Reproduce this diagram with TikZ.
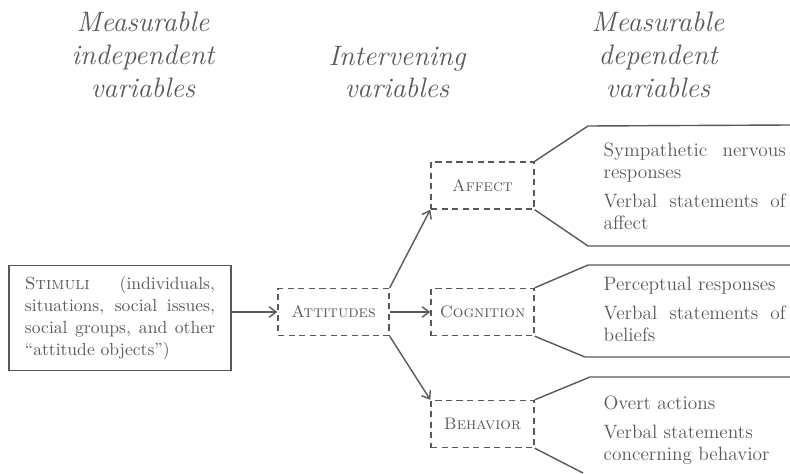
\documentclass[tikz,border=0pt]{standalone}
\usepackage{fontspec}
\usetikzlibrary{arrows.meta}

\definecolor{ink}{gray}{0.35}
\hyphenpenalty=10000
\exhyphenpenalty=10000

\tikzset{
	solidbox/.style={draw=ink, text=ink, align=justify},
	dashbox/.style={draw=ink, text=ink, dash pattern=on 3.5pt off 2.5pt, minimum height=0.94cm, font=\fontsize{9.5}{12}\selectfont},
	headline/.style={text=ink, align=center, font=\fontsize{16}{18.7}\selectfont\itshape\addfontfeatures{LetterSpace=10}},
	response/.style={text=ink, anchor=west, inner sep=0pt, text width=3.64cm, align=justify, font=\fontsize{11}{12.5}\selectfont\setlength{\parskip}{4pt}}
}

\begin{document}
\begin{tikzpicture}[line width=0.8pt, >={Straight Barb[length=4pt,width=6pt]}]
	\useasboundingbox (0,0) rectangle (15.8,9.46);

	% Заголовки колонок
	\node[headline] (indep) at (2.86, 8.36) {Measurable\\independent\\variables};
	\node[headline] (interv) at (7.94, 8.02) {Intervening\\variables};
	\node[headline] (dep) at (13.16, 8.36) {Measurable\\dependent\\variables};

	% Блоки
	\node[solidbox, text width=3.8cm, inner xsep=0.32cm, inner ysep=0.22cm, font=\fontsize{10}{12.5}\selectfont] (stimuli) at (2.4, 3.10) {\textsc{Stimuli} (individuals, situations, social issues, social groups, and other ``attitude objects'')};
	\node[dashbox, minimum width=2.22cm] (attitudes) at (6.67, 3.22) {\textsc{Attitudes}};
	\node[dashbox, minimum width=2.06cm] (affect) at (9.65, 5.75) {\textsc{Affect}};
	\node[dashbox, minimum width=2.06cm] (cognition) at (9.65, 3.22) {\textsc{Cognition}};
	\node[dashbox, minimum width=2.06cm] (behavior) at (9.65, 0.98) {\textsc{Behavior}};

	% Стрелки
	\draw[->, ink] (stimuli.east |- attitudes) -- (attitudes);
	\draw[->, ink] (attitudes.north east) -- (affect.south west);
	\draw[->, ink] (attitudes) -- (cognition);
	\draw[->, ink] (attitudes.south east) -- (behavior.north west);

	% Точки скобок справа
	\coordinate (aff1) at (11.76, 6.94); \coordinate (aff2) at (15.8, 6.96);
	\coordinate (aff3) at (11.76, 4.54); \coordinate (aff4) at (15.8, 4.54);
	\coordinate (cog1) at (11.76, 4.16); \coordinate (cog2) at (15.8, 4.16);
	\coordinate (cog3) at (11.70, 2.32); \coordinate (cog4) at (15.8, 2.32);
	\coordinate (beh1) at (11.80, 1.92); \coordinate (beh2) at (15.8, 1.92);
	\coordinate (beh3) at (11.66, 0);

	\draw[ink] (affect.north east) -- (aff1) -- (aff2);
	\draw[ink] (affect.south east) -- (aff3) -- (aff4);
	\draw[ink] (cognition.north east) -- (cog1) -- (cog2);
	\draw[ink] (cognition.south east) -- (cog3) -- (cog4);
	\draw[ink] (behavior.north east) -- (beh1) -- (beh2);
	\draw[ink] (behavior.south east) -- (beh3);

	% Зависимые переменные
	\node[response] (afftext) at (12.06, 5.73) {Sympathetic nervous responses\par Verbal statements of affect};
	\node[response] (cogtext) at (12.06, 3.28) {Perceptual responses\par Verbal statements of beliefs};
	\node[response] (behtext) at (12.06, 0.85) {Overt actions\par Verbal statements\\ concerning behavior};
\end{tikzpicture}
\end{document}
